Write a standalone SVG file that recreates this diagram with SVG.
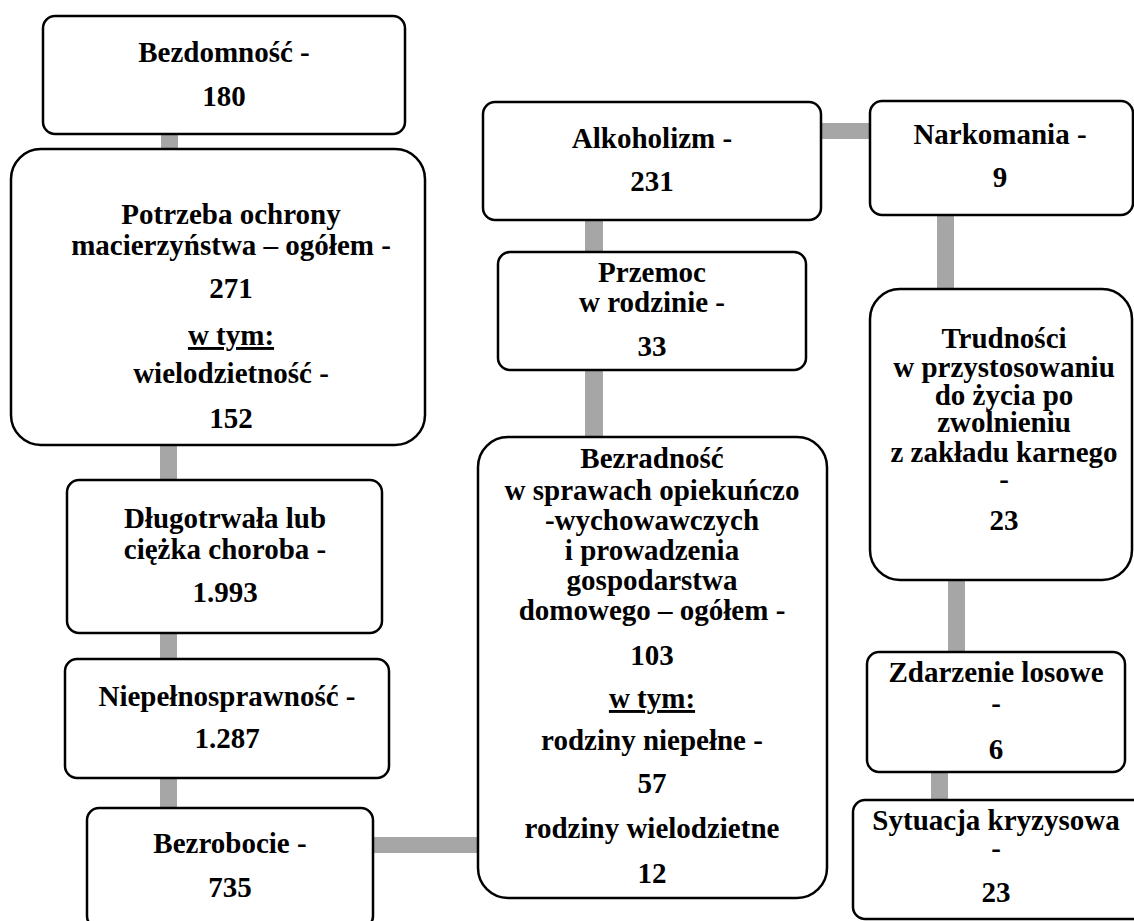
<svg xmlns="http://www.w3.org/2000/svg" width="1134" height="921" viewBox="0 0 1134 921">
<style>
.box{fill:#fff;stroke:#000;stroke-width:2.5}
.c{fill:#a6a6a6}
.t text{font-weight:bold;font-size:29px;fill:#000;text-anchor:middle}
.u{text-decoration:underline}
</style>
<rect width="1134" height="921" fill="#fff"/>
<g id="connectors">
<rect class="c" x="161" y="130" width="17" height="24"/>
<rect class="c" x="160" y="440" width="17" height="44"/>
<rect class="c" x="160" y="630" width="17" height="32"/>
<rect class="c" x="160" y="775" width="17" height="36"/>
<rect class="c" x="370" y="837" width="112" height="16"/>
<rect class="c" x="585" y="217" width="18" height="38"/>
<rect class="c" x="585" y="367" width="18" height="73"/>
<rect class="c" x="818" y="123" width="55" height="16"/>
<rect class="c" x="937" y="212" width="17" height="80"/>
<rect class="c" x="948" y="577" width="17" height="78"/>
<rect class="c" x="931" y="769" width="17" height="34"/>
</g>
<g class="t" font-family="Liberation Serif">
<g id="bezdomnosc">
<rect class="box" x="43" y="16" width="362" height="118" rx="12"/>
<text x="224" y="62">Bezdomność -</text>
<text x="224" y="106">180</text>
</g>
<g id="potrzeba">
<rect class="box" x="11" y="149" width="414" height="296" rx="30"/>
<text x="231" y="224">Potrzeba ochrony</text>
<text x="231" y="255">macierzyństwa – ogółem -</text>
<text x="231" y="298">271</text>
<text x="231" y="345" class="u">w tym:</text>
<text x="231" y="383">wielodzietność -</text>
<text x="231" y="428">152</text>
</g>
<g id="dlugotrwala">
<rect class="box" x="67" y="480" width="315" height="153" rx="12"/>
<text x="225" y="528">Długotrwała lub</text>
<text x="225" y="559">ciężka choroba -</text>
<text x="225" y="602">1.993</text>
</g>
<g id="niepelnosprawnosc">
<rect class="box" x="65" y="659" width="324" height="119" rx="12"/>
<text x="227" y="706">Niepełnosprawność -</text>
<text x="227" y="748">1.287</text>
</g>
<g id="bezrobocie">
<rect class="box" x="87" y="808" width="286" height="120" rx="12"/>
<text x="230" y="853">Bezrobocie -</text>
<text x="230" y="897">735</text>
</g>
<g id="alkoholizm">
<rect class="box" x="483" y="102" width="338" height="118" rx="12"/>
<text x="652" y="148">Alkoholizm -</text>
<text x="652" y="191">231</text>
</g>
<g id="przemoc">
<rect class="box" x="498" y="252" width="308" height="118" rx="12"/>
<text x="652" y="282">Przemoc</text>
<text x="652" y="312">w rodzinie -</text>
<text x="652" y="356">33</text>
</g>
<g id="bezradnosc">
<rect class="box" x="478" y="437" width="349" height="461" rx="30"/>
<text x="652" y="468">Bezradność</text>
<text x="652" y="500">w sprawach opiekuńczo</text>
<text x="652" y="530">-wychowawczych</text>
<text x="652" y="560">i prowadzenia</text>
<text x="652" y="590">gospodarstwa</text>
<text x="652" y="620">domowego – ogółem -</text>
<text x="652" y="665">103</text>
<text x="652" y="708" class="u">w tym:</text>
<text x="652" y="750">rodziny niepełne -</text>
<text x="652" y="793">57</text>
<text x="652" y="838">rodziny wielodzietne</text>
<text x="652" y="883">12</text>
</g>
<g id="narkomania">
<rect class="box" x="870" y="101" width="263" height="114" rx="12"/>
<text x="1000" y="144">Narkomania -</text>
<text x="1000" y="187">9</text>
</g>
<g id="trudnosci">
<rect class="box" x="870" y="289" width="262" height="291" rx="30"/>
<text x="1004" y="348">Trudności</text>
<text x="1004" y="377">w przystosowaniu</text>
<text x="1004" y="405">do życia po</text>
<text x="1004" y="432">zwolnieniu</text>
<text x="1004" y="462">z zakładu karnego</text>
<text x="1004" y="489">-</text>
<text x="1004" y="530">23</text>
</g>
<g id="zdarzenie">
<rect class="box" x="867" y="652" width="258" height="120" rx="12"/>
<text x="996" y="682">Zdarzenie losowe</text>
<text x="996" y="713">-</text>
<text x="996" y="759">6</text>
</g>
<g id="sytuacja">
<rect class="box" x="853" y="800" width="300" height="119" rx="12"/>
<text x="996" y="830">Sytuacja kryzysowa</text>
<text x="996" y="858">-</text>
<text x="996" y="902">23</text>
</g>
</g>
</svg>
